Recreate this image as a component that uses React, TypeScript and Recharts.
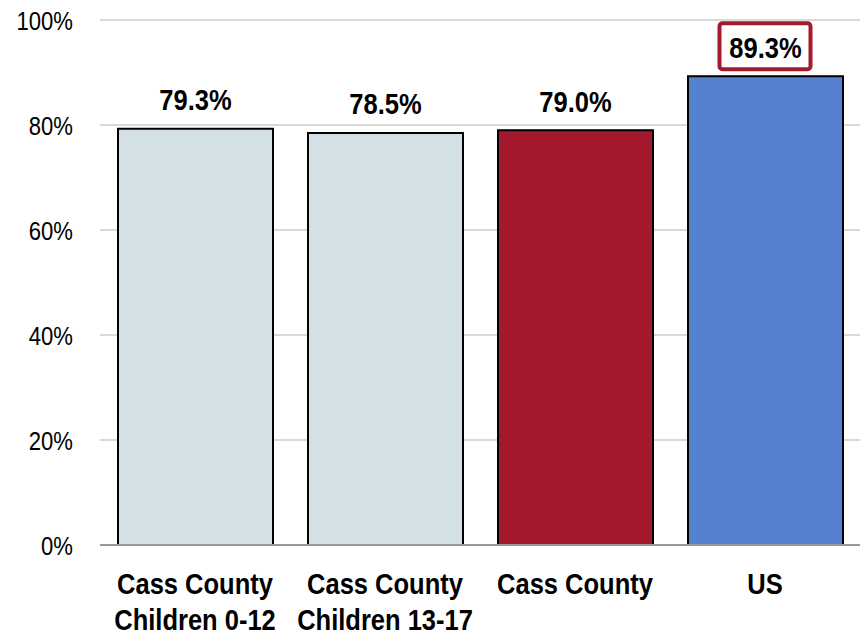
import React from 'react';
import { BarChart, Bar, XAxis, YAxis, CartesianGrid, Cell, LabelList } from 'recharts';

const categories = ['Cass County\nChildren 0-12', 'Cass County\nChildren 13-17', 'Cass County', 'US'];
const values = [79.3, 78.5, 79.0, 89.3];
const barColors = ['#D3E1E6', '#D3E1E6', '#A31A2F', '#5681D0'];
const yTicks = [0, 20, 40, 60, 80, 100];
const highlighted = ['US'];

const data = categories.map((c, i) => ({ name: c, value: values[i] }));

const FONT = "'Liberation Sans', Arial, sans-serif";
const SX = 0.85;

const XTick = (props: any) => {
  const { x, y, payload } = props;
  const lines = String(payload.value).split('\n');
  return (
    <g transform={`translate(${x},${y}) scale(${SX},1)`}>
      <text x={0} y={0} textAnchor="middle" fontFamily={FONT} fontWeight="bold" fontSize={30} fill="#000">
        {lines.map((l, i) => (
          <tspan key={i} x={0} y={41 + i * 36}>{l}</tspan>
        ))}
      </text>
    </g>
  );
};

const YTick = (props: any) => {
  const { x, y, payload } = props;
  return (
    <g transform={`translate(${x},${y}) scale(${SX},1)`}>
      <text x={0} y={9.5} textAnchor="end" fontFamily={FONT} fontSize={26} fill="#000">
        {`${payload.value}%`}
      </text>
    </g>
  );
};

const ValueLabel = (props: any) => {
  const { x, y, width, value, index } = props;
  const cx = x + width / 2;
  const text = `${Number(value).toFixed(1)}%`;
  const boxed = highlighted.includes(categories[index]);
  return (
    <g>
      {boxed && (
        <rect x={cx - 46} y={y - 53} width={91} height={46} rx={3} ry={3} fill="#fff" stroke="#A31A2F" strokeWidth={4} />
      )}
      <g transform={`translate(${cx},${y - 18.5}) scale(${SX},1)`}>
        <text x={0} y={0} textAnchor="middle" fontFamily={FONT} fontWeight="bold" fontSize={30} fill="#000">
          {text}
        </text>
      </g>
    </g>
  );
};

export default function App() {
  return (
    <div style={{ position: 'absolute', left: 0, top: 0, background: '#fff' }}>
      <BarChart width={863} height={636} data={data} margin={{ top: 20, right: 3, bottom: 0, left: 0 }} barSize={155}>
        <CartesianGrid vertical={false} stroke="#D9D9D9" strokeWidth={2} />
        <XAxis dataKey="name" tick={<XTick />} tickLine={false} axisLine={{ stroke: '#999', strokeWidth: 2 }} interval={0} height={91} />
        <YAxis
          domain={[0, 100]}
          ticks={yTicks}
          tickLine={false}
          axisLine={false}
          width={100}
          tickMargin={21}
          tick={<YTick />}
        />
        <Bar dataKey="value" isAnimationActive={false} stroke="#000" strokeWidth={2}>
          {data.map((d, i) => (
            <Cell key={i} fill={barColors[i]} />
          ))}
          <LabelList dataKey="value" content={<ValueLabel />} />
        </Bar>
      </BarChart>
    </div>
  );
}
